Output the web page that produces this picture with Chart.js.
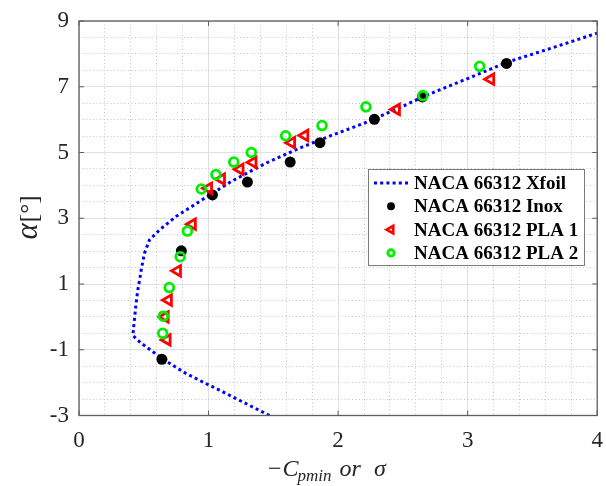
<!DOCTYPE html>
<html>
<head>
<meta charset="utf-8">
<script src="https://cdn.jsdelivr.net/npm/chart.js@4.4.0/dist/chart.umd.min.js"></script>
<style>
  html, body { margin: 0; padding: 0; background: #fff; }
</style>
</head>
<body>
<canvas id="chart" width="606" height="486"></canvas>
<script>
// axis ticks that carry a label
const xTicks = [0, 1, 2, 3, 4];
const yTicks = [-3, -1, 1, 3, 5, 7, 9];

// NACA 66312 Xfoil curve (-Cpmin vs alpha)
const xfoilX = [1.47, 1.27, 1.08, 0.95, 0.825, 0.69, 0.57, 0.48, 0.416, 0.422, 0.43, 0.44, 0.454, 0.467, 0.48, 0.505, 0.544, 0.62, 0.748, 0.95, 1.18, 1.44, 1.70, 1.95, 2.20, 2.45, 2.70, 3.00, 3.30, 3.65, 4.0];
const xfoilY = [-3.0, -2.6, -2.22, -1.97, -1.72, -1.39, -1.06, -0.80, -0.57, -0.3, 0.0, 0.4, 0.82, 1.1, 1.43, 1.93, 2.34, 2.64, 3.05, 3.56, 4.13, 4.67, 5.13, 5.52, 5.89, 6.32, 6.77, 7.25, 7.74, 8.18, 8.63];

// measured sigma vs alpha
const inoxX = [0.64, 0.79, 1.03, 1.30, 1.63, 1.86, 2.28, 2.65, 3.30];
const inoxY = [-1.29, 2.01, 3.71, 4.10, 4.71, 5.30, 6.01, 6.69, 7.71];

const pla1X = [0.68, 0.665, 0.69, 0.76, 0.875, 1.0, 1.10, 1.243, 1.343, 1.641, 1.743, 2.45, 3.178];
const pla1Y = [-0.70, 0.0, 0.51, 1.40, 2.82, 3.91, 4.19, 4.49, 4.70, 5.30, 5.52, 6.31, 7.23];

const pla2X = [0.646, 0.651, 0.697, 0.781, 0.837, 0.944, 1.057, 1.195, 1.33, 1.595, 1.876, 2.215, 2.654, 3.093];
const pla2Y = [-0.50, 0.02, 0.89, 1.83, 2.61, 3.89, 4.33, 4.71, 5.0, 5.51, 5.82, 6.39, 6.73, 7.62];

const labels = ['NACA 66312 Xfoil', 'NACA 66312 Inox', 'NACA 66312 PLA 1', 'NACA 66312 PLA 2'];

const pts = (xs, ys) => xs.map((x, i) => ({ x, y: ys[i] }));
const near = (v, list) => list.some(t => Math.abs(t - v) < 1e-6);

const serif = "'Liberation Serif', 'Times New Roman', serif";

const frame = {
  id: 'frame',
  afterDraw(chart) {
    const { ctx, chartArea: a, scales: { x, y } } = chart;
    ctx.save();

    // inward tick marks + box
    ctx.strokeStyle = '#5e5e5e';
    ctx.lineWidth = 1;
    ctx.beginPath();
    xTicks.forEach(v => {
      const px = x.getPixelForValue(v);
      ctx.moveTo(px, a.bottom); ctx.lineTo(px, a.bottom - 5);
      ctx.moveTo(px, a.top); ctx.lineTo(px, a.top + 5);
    });
    yTicks.forEach(v => {
      const py = y.getPixelForValue(v);
      ctx.moveTo(a.left, py); ctx.lineTo(a.left + 5, py);
      ctx.moveTo(a.right, py); ctx.lineTo(a.right - 5, py);
    });
    ctx.stroke();
    ctx.lineWidth = 1.3;
    ctx.strokeRect(a.left, a.top, a.right - a.left, a.bottom - a.top);

    // legend box
    const lx = 368.5, ly = 169.5, lw = 216, lh = 96;
    ctx.fillStyle = '#fff';
    ctx.fillRect(lx, ly, lw, lh);
    ctx.strokeStyle = '#7a7a7a';
    ctx.lineWidth = 1;
    ctx.strokeRect(lx, ly, lw, lh);

    const ds = chart.data.datasets;
    ctx.font = 'bold 19px ' + serif;
    ctx.textBaseline = 'middle';
    ctx.textAlign = 'left';
    labels.forEach((lab, i) => {
      const ry = 183 + i * 23.3;
      const d = ds[i];
      if (i === 0) {
        ctx.strokeStyle = d.borderColor;
        ctx.lineWidth = 3;
        ctx.setLineDash([3, 3.2]);
        ctx.beginPath();
        ctx.moveTo(374, ry); ctx.lineTo(409, ry);
        ctx.stroke();
        ctx.setLineDash([]);
      } else {
        ctx.strokeStyle = d.borderColor;
        ctx.fillStyle = d.backgroundColor;
        ctx.lineWidth = d.pointBorderWidth;
        Chart.helpers.drawPoint(ctx, {
          pointStyle: d.pointStyle,
          rotation: d.pointRotation || 0,
          radius: d.pointRadius * 0.72,
          borderWidth: d.pointBorderWidth
        }, 391, ry);
      }
      ctx.fillStyle = '#000';
      ctx.fillText(lab, 414, ry + 1);
    });

    // x title: -C_pmin or sigma
    ctx.fillStyle = '#262626';
    ctx.textBaseline = 'alphabetic';
    const base = 476;
    let cx = 268;
    ctx.font = '24px ' + serif;
    ctx.fillText('\u2212', cx, base);
    cx += ctx.measureText('\u2212').width + 1;
    ctx.font = 'italic 24px ' + serif;
    ctx.fillText('C', cx, base);
    cx += ctx.measureText('C').width - 1;
    ctx.font = 'italic 17px ' + serif;
    ctx.fillText('pmin', cx, base + 5);
    cx += ctx.measureText('pmin').width + 8;
    ctx.font = 'italic 24px ' + serif;
    ctx.fillText('or', cx, base);
    cx += ctx.measureText('or').width + 13;
    ctx.fillText('\u03c3', cx, base);

    // y title: alpha [deg]
    ctx.translate(37, 218);
    ctx.rotate(-Math.PI / 2);
    ctx.font = 'italic 31px ' + serif;
    const wA = ctx.measureText('\u03b1').width;
    ctx.font = '25px ' + serif;
    const wB = ctx.measureText('[\u00b0]').width;
    const start = -(wA + wB) / 2;
    ctx.font = 'italic 31px ' + serif;
    ctx.fillText('\u03b1', start, 0);
    ctx.font = '25px ' + serif;
    ctx.fillText('[\u00b0]', start + wA + 1, 0);

    ctx.restore();
  }
};

new Chart(document.getElementById('chart'), {
  type: 'scatter',
  data: {
    datasets: [
      {
        label: labels[0],
        data: pts(xfoilX, xfoilY),
        showLine: true,
        borderColor: '#0000ff',
        backgroundColor: '#0000ff',
        borderWidth: 3,
        borderDash: [3, 3.2],
        borderCapStyle: 'butt',
        pointRadius: 0,
        order: 4
      },
      {
        label: labels[1],
        data: pts(inoxX, inoxY),
        pointStyle: 'circle',
        pointRadius: 5.5,
        pointBorderWidth: 0,
        borderColor: '#000',
        backgroundColor: '#000',
        order: 3
      },
      {
        label: labels[2],
        data: pts(pla1X, pla1Y),
        pointStyle: 'triangle',
        pointRotation: -90,
        pointRadius: 6,
        pointBorderWidth: 2.8,
        borderColor: '#ff0000',
        backgroundColor: 'rgba(0,0,0,0)',
        order: 2
      },
      {
        label: labels[3],
        data: pts(pla2X, pla2Y),
        pointStyle: 'circle',
        pointRadius: 4.4,
        pointBorderWidth: 2.8,
        borderColor: '#00ee00',
        backgroundColor: 'rgba(0,0,0,0)',
        order: 1
      }
    ]
  },
  options: {
    responsive: false,
    animation: false,
    devicePixelRatio: 1,
    layout: { padding: { left: 0, top: 21, right: 4.5, bottom: 0 } },
    plugins: {
      legend: { display: false },
      tooltip: { enabled: false }
    },
    scales: {
      x: {
        type: 'linear',
        min: 0,
        max: 4,
        afterFit: s => { s.height = 70.5; s.paddingLeft = 0; s.paddingRight = 0; },
        ticks: {
          stepSize: 0.2,
          maxTicksLimit: 100,
          autoSkip: false,
          maxRotation: 0,
          padding: 12,
          color: '#262626',
          font: { family: serif, size: 23 },
          callback: v => near(v, xTicks) ? String(Math.round(v)) : ''
        },
        grid: {
          drawTicks: false,
          lineWidth: 1,
          color: c => c.tick && near(c.tick.value, xTicks) ? '#e0e0e0' : '#c4c4c4'
        },
        border: {
          display: false,
          dash: c => c.tick && !near(c.tick.value, xTicks) ? [1, 2.5] : []
        }
      },
      y: {
        type: 'linear',
        min: -3,
        max: 9,
        afterFit: s => { s.width = 79; s.paddingTop = 0; s.paddingBottom = 0; },
        ticks: {
          stepSize: 0.5,
          maxTicksLimit: 100,
          autoSkip: false,
          padding: 10,
          color: '#262626',
          font: { family: serif, size: 23 },
          callback: v => near(v, yTicks) ? String(Math.round(v)) : ''
        },
        grid: {
          drawTicks: false,
          lineWidth: 1,
          color: c => c.tick && near(c.tick.value, yTicks) ? '#e0e0e0' : '#c4c4c4'
        },
        border: {
          display: false,
          dash: c => c.tick && !near(c.tick.value, yTicks) ? [1, 2.5] : []
        }
      }
    }
  },
  plugins: [frame]
});
</script>
</body>
</html>
